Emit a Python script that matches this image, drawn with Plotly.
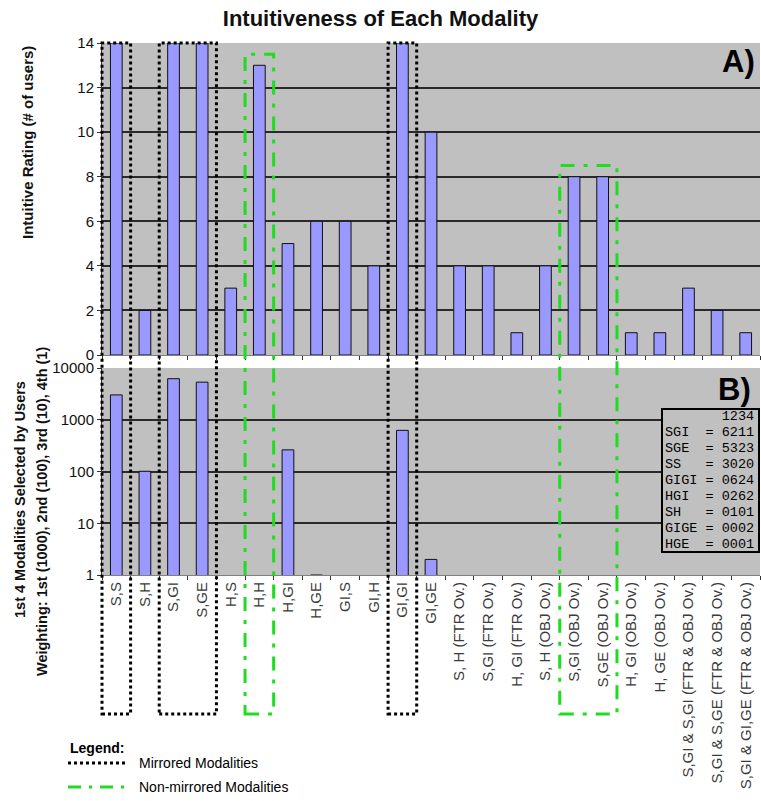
import plotly.graph_objects as go

# ---------------- data ----------------
categories = [
    "S,S", "S,H", "S,GI", "S,GE", "H,S", "H,H", "H,GI", "H,GE", "GI,S", "GI,H",
    "GI,GI", "GI,GE", "S, H (FTR Ov.)", "S,GI (FTR Ov.)", "H, GI (FTR Ov.)",
    "S, H (OBJ Ov.)", "S,GI (OBJ Ov.)", "S,GE (OBJ Ov.)", "H, GI (OBJ Ov.)",
    "H, GE (OBJ Ov.)", "S,GI & S,GI (FTR & OBJ Ov.)", "S,GI & S,GE (FTR & OBJ Ov.)",
    "S,GI & GI,GE (FTR & OBJ Ov.)",
]
intuitive_rating = [14, 2, 14, 14, 3, 13, 5, 6, 6, 4, 14, 10, 4, 4, 1, 4, 8, 8, 1, 1, 3, 2, 1]
weighted_selection = [3020, 101, 6211, 5323, 0, 0, 262, 1, 0, 0, 624, 2,
                      0, 0, 0, 0, 0, 0, 0, 0, 0, 0, 0]
key_names = ["SGI", "SGE", "SS", "GIGI", "HGI", "SH", "GIGE", "HGE"]
key_codes = ["6211", "5323", "3020", "0624", "0262", "0101", "0002", "0001"]
mirrored_groups = [("S,S", "S,S"), ("S,GI", "S,GE"), ("GI,GI", "GI,GI")]
nonmirrored_groups = [("H,H", "H,H"), ("S,GI (OBJ Ov.)", "S,GE (OBJ Ov.)")]
y_a_ticks = [0, 2, 4, 6, 8, 10, 12, 14]
y_b_ticks = [1, 10, 100, 1000, 10000]

# ---------------- layout constants ----------------
W, H = 761, 801
L, R, T, B = 102, 1, 43, 226
PW, PH = W - L - R, H - T - B
FONT = "Liberation Sans, Arial, sans-serif"
MONO = "Liberation Mono, Courier New, monospace"
BAR_COLOR = "#9999FF"
BG = "#C0C0C0"
GREEN = "#1EDC1E"
N = len(categories)

def px_x(px):
    return (px - L) / PW

def px_y(py):
    return (H - B - py) / PH

dom_a = [px_y(355), 1.0]
dom_b = [0.0, px_y(368)]

def a_val_to_paper(v):
    return dom_a[0] + v / 14.0 * (dom_a[1] - dom_a[0])

fig = go.Figure()
fig.add_trace(go.Bar(
    x=categories, y=intuitive_rating, xaxis="x", yaxis="y",
    marker=dict(color=BAR_COLOR, line=dict(color="#111111", width=1)),
    showlegend=False, hoverinfo="x+y",
))
fig.add_trace(go.Bar(
    x=categories, y=[v if v > 0 else None for v in weighted_selection],
    xaxis="x2", yaxis="y2",
    marker=dict(color=BAR_COLOR, line=dict(color="#111111", width=1)),
    showlegend=False, hoverinfo="x+y",
))

axis_common = dict(
    type="category", categoryorder="array", categoryarray=categories,
    tickson="boundaries", ticks="outside", ticklen=4, tickcolor="#333333",
    showgrid=False, showline=True, linecolor="#808080", linewidth=1,
    range=[-0.5, N - 0.5], automargin=False,
)
fig.update_layout(
    width=W, height=H,
    margin=dict(l=L, r=R, t=T, b=B),
    paper_bgcolor="white", plot_bgcolor=BG,
    bargap=0.59,
    font=dict(family=FONT, color="#111111"),
    title=dict(text="<b>Intuitiveness of Each Modality</b>", x=0.5, xref="container",
               xanchor="center", y=1 - 18 / H, yanchor="middle",
               font=dict(size=22, family=FONT, color="#111111")),
    xaxis=dict(axis_common, anchor="y", showticklabels=False),
    yaxis=dict(domain=dom_a, anchor="x", range=[0, 14], tickvals=y_a_ticks,
               ticks="outside", ticklen=4, tickcolor="#333333",
               showgrid=True, gridcolor="#2a2a2a", gridwidth=1.5,
               showline=True, linecolor="#333333", linewidth=1, zeroline=False,
               tickfont=dict(size=15, color="#111111"), automargin=False),
    xaxis2=dict(axis_common, anchor="y2", showticklabels=True, tickangle=-90,
                tickfont=dict(size=15, color="#3a3a3a")),
    yaxis2=dict(domain=dom_b, anchor="x2", type="log", range=[0, 4],
                tickvals=y_b_ticks, ticktext=[str(v) for v in y_b_ticks],
                ticks="outside", ticklen=4, tickcolor="#333333",
                showgrid=True, gridcolor="#2a2a2a", gridwidth=1.5,
                showline=True, linecolor="#333333", linewidth=1, zeroline=False,
                tickfont=dict(size=15, color="#111111"), automargin=False),
)

# --------- highlight boxes ---------
idx = {c: i for i, c in enumerate(categories)}
box_bottom = px_y(714)

def add_box(c0, c1, color, dash):
    i0, i1 = idx[c0], idx[c1]
    top_val = min(max(intuitive_rating[i0:i1 + 1]) + 0.5, 14)
    fig.add_shape(type="rect", xref="paper", yref="paper",
                  x0=i0 / N, x1=(i1 + 1) / N,
                  y0=box_bottom, y1=a_val_to_paper(top_val),
                  line=dict(color=color, width=3, dash=dash),
                  fillcolor="rgba(0,0,0,0)", layer="above")

for g in mirrored_groups:
    add_box(g[0], g[1], "#000000", "dot")
for g in nonmirrored_groups:
    add_box(g[0], g[1], GREEN, "14px,9px,4px,9px")

# --------- panel labels ---------
fig.add_annotation(text="<b>A)</b>", xref="paper", yref="paper", x=px_x(757), y=px_y(62),
                   xanchor="right", yanchor="middle", showarrow=False,
                   font=dict(size=31, family=FONT, color="#000000"))
fig.add_annotation(text="<b>B)</b>", xref="paper", yref="paper", x=px_x(753), y=px_y(389),
                   xanchor="right", yanchor="middle", showarrow=False,
                   font=dict(size=31, family=FONT, color="#000000"))

# --------- axis titles ---------
fig.add_annotation(text="<b>Intuitive Rating (# of users)</b>", xref="paper", yref="paper",
                   x=px_x(27), y=px_y(143), textangle=-90, showarrow=False,
                   xanchor="center", yanchor="middle",
                   font=dict(size=15, family=FONT, color="#111111"))
fig.add_annotation(text="<b>1st 4 Modalities Selected by Users</b>", xref="paper", yref="paper",
                   x=px_x(20), y=px_y(500), textangle=-90, showarrow=False,
                   xanchor="center", yanchor="middle",
                   font=dict(size=14.5, family=FONT, color="#111111"))
fig.add_annotation(text="<b>Weighting: 1st (1000), 2nd (100), 3rd (10), 4th (1)</b>",
                   xref="paper", yref="paper",
                   x=px_x(42), y=px_y(512), textangle=-90, showarrow=False,
                   xanchor="center", yanchor="middle",
                   font=dict(size=14.5, family=FONT, color="#111111"))

# --------- key box ---------
nb = "\u00a0"
key_lines = [nb * 7 + "1234"] + [f"{n:<5}= {c}".replace(" ", nb) for n, c in zip(key_names, key_codes)]
fig.add_shape(type="rect", xref="paper", yref="paper",
              x0=px_x(662), x1=px_x(759), y0=px_y(552), y1=px_y(409),
              line=dict(color="#000000", width=2), fillcolor=BG, layer="above")
for k, line in enumerate(key_lines):
    fig.add_annotation(text=line, xref="paper", yref="paper",
                       x=px_x(663), y=px_y(416 + 16 * k), xanchor="left", yanchor="middle",
                       align="left", showarrow=False,
                       font=dict(size=13.5, family=MONO, color="#000000"))

# --------- legend ---------
fig.add_annotation(text="<b>Legend:</b>", xref="paper", yref="paper", x=px_x(68), y=px_y(748),
                   xanchor="left", yanchor="middle", showarrow=False,
                   font=dict(size=14, family=FONT, color="#000000"))
legend_items = [("Mirrored Modalities", "#000000", "dot", 763),
                ("Non-mirrored Modalities", GREEN, "13px,8px,3px,8px", 787)]
for label, color, dash, ypx in legend_items:
    fig.add_shape(type="line", xref="paper", yref="paper", x0=px_x(68), x1=px_x(126),
                  y0=px_y(ypx), y1=px_y(ypx), line=dict(color=color, width=3, dash=dash))
    fig.add_annotation(text=label, xref="paper", yref="paper", x=px_x(137), y=px_y(ypx),
                       xanchor="left", yanchor="middle", showarrow=False,
                       font=dict(size=14, family=FONT, color="#000000"))

fig.write_html("out.html", config={"displayModeBar": False},
               post_script="document.body.style.margin='0';document.body.style.overflow='hidden';")
